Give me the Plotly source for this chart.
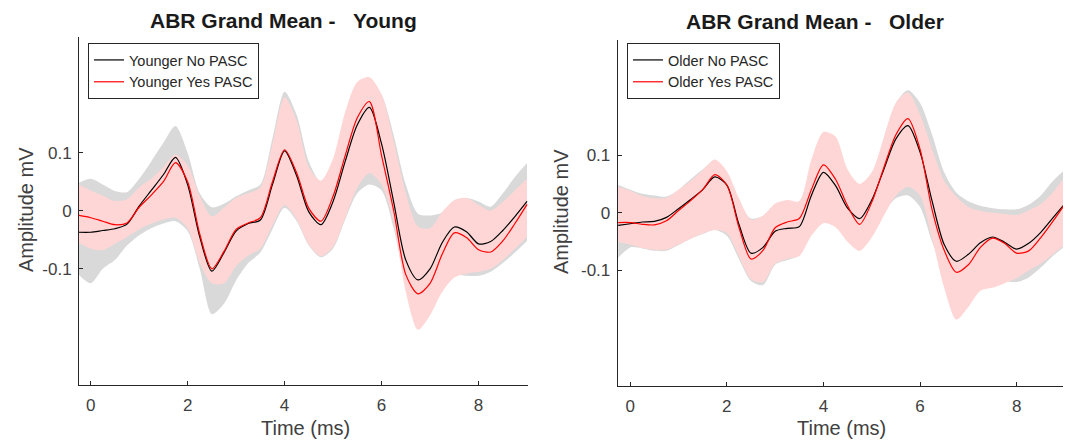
import plotly.graph_objects as go

# ---------------- data ----------------
TIME = [-0.25, 0.0, 0.25, 0.5, 0.75, 1.0, 1.25, 1.5, 1.75, 2.0, 2.25, 2.5, 2.75,
        3.0, 3.25, 3.5, 3.75, 4.0, 4.25, 4.5, 4.75, 5.0, 5.25, 5.5, 5.75, 6.0,
        6.25, 6.5, 6.75, 7.0, 7.25, 7.5, 7.75, 8.0, 8.25, 8.5, 8.75, 9.0]

young_no_pasc = [-0.037, -0.037, -0.034, -0.031, -0.023, 0.008, 0.035, 0.062, 0.092,
                 0.045, -0.045, -0.104, -0.072, -0.035, -0.022, -0.016, 0.045,
                 0.103, 0.060, -0.002, -0.024, 0.016, 0.085, 0.148, 0.178,
                 0.115, 0.015, -0.085, -0.119, -0.100, -0.055, -0.028, -0.036,
                 -0.057, -0.053, -0.034, -0.010, 0.016]
young_yes_pasc = [-0.008, -0.012, -0.018, -0.024, -0.021, 0.006, 0.027, 0.050, 0.083,
                  0.050, -0.040, -0.100, -0.070, -0.032, -0.021, -0.012, 0.050,
                  0.105, 0.065, 0.004, -0.018, 0.025, 0.095, 0.160, 0.188,
                  0.095, 0.000, -0.110, -0.143, -0.125, -0.075, -0.038, -0.046,
                  -0.067, -0.071, -0.052, -0.022, 0.011]
young_no_upper = [0.048, 0.055, 0.045, 0.034, 0.032, 0.055, 0.085, 0.117, 0.146,
                  0.100, 0.030, 0.006, 0.012, 0.025, 0.035, 0.045, 0.125,
                  0.205, 0.165, 0.085, 0.050, 0.085, 0.160, 0.215, 0.225,
                  0.200, 0.130, 0.045, -0.005, -0.008, -0.003, 0.018, 0.022,
                  0.016, 0.007, 0.030, 0.058, 0.082]
young_no_lower = [-0.110, -0.125, -0.100, -0.085, -0.060, -0.042, -0.030, -0.022, -0.018,
                  -0.035, -0.100, -0.178, -0.160, -0.120, -0.090, -0.072, -0.032,
                  0.005, -0.018, -0.060, -0.080, -0.065, -0.015, 0.030, 0.045,
                  0.035, -0.030, -0.120, -0.150, -0.130, -0.115, -0.110, -0.112,
                  -0.112, -0.105, -0.090, -0.072, -0.052]
young_yes_upper = [0.045, 0.035, 0.026, 0.017, 0.020, 0.040, 0.055, 0.075, 0.097,
                   0.078, 0.025, -0.010, 0.005, 0.022, 0.030, 0.040, 0.115,
                   0.195, 0.155, 0.075, 0.052, 0.090, 0.170, 0.222, 0.230,
                   0.200, 0.120, 0.030, -0.027, -0.030, -0.002, 0.018, 0.022,
                   0.010, 0.000, 0.015, 0.035, 0.055]
young_yes_lower = [-0.055, -0.065, -0.068, -0.057, -0.045, -0.032, -0.022, -0.015, -0.012,
                   -0.030, -0.090, -0.125, -0.125, -0.095, -0.077, -0.065, -0.025,
                   0.010, -0.015, -0.058, -0.078, -0.062, -0.012, 0.040, 0.065,
                   0.045, -0.020, -0.140, -0.205, -0.180, -0.140, -0.115, -0.108,
                   -0.105, -0.100, -0.085, -0.065, -0.045]

older_no_pasc = [-0.022, -0.019, -0.016, -0.015, -0.008, 0.007, 0.023, 0.040, 0.062,
                 0.048, -0.020, -0.070, -0.060, -0.032, -0.027, -0.024, 0.030,
                 0.070, 0.047, 0.008, -0.010, 0.022, 0.075, 0.128, 0.151,
                 0.105, 0.020, -0.055, -0.084, -0.072, -0.052, -0.042, -0.051,
                 -0.063, -0.053, -0.034, -0.009, 0.016]
older_yes_pasc = [-0.017, -0.017, -0.020, -0.021, -0.014, 0.004, 0.021, 0.040, 0.066,
                  0.048, -0.025, -0.080, -0.065, -0.026, -0.016, -0.010, 0.040,
                  0.083, 0.058, 0.012, -0.020, 0.018, 0.078, 0.135, 0.163,
                  0.110, 0.005, -0.065, -0.103, -0.090, -0.060, -0.044, -0.053,
                  -0.070, -0.066, -0.043, -0.015, 0.015]
older_no_upper = [0.048, 0.040, 0.033, 0.030, 0.028, 0.040, 0.058, 0.075, 0.090,
                  0.070, 0.020, -0.010, -0.005, 0.012, 0.018, 0.020, 0.082,
                  0.135, 0.122, 0.070, 0.045, 0.060, 0.130, 0.190, 0.212,
                  0.190, 0.135, 0.070, 0.035, 0.020, 0.012, 0.008, 0.006,
                  0.006, 0.014, 0.030, 0.055, 0.075]
older_no_lower = [-0.078, -0.060, -0.062, -0.066, -0.066, -0.056, -0.045, -0.037, -0.030,
                  -0.040, -0.080, -0.118, -0.125, -0.090, -0.082, -0.074, -0.035,
                  -0.010, -0.012, -0.028, -0.045, -0.030, 0.000, 0.025, 0.030,
                  0.010, -0.050, -0.100, -0.130, -0.125, -0.120, -0.118, -0.118,
                  -0.120, -0.112, -0.095, -0.075, -0.058]
older_yes_upper = [0.045, 0.038, 0.029, 0.025, 0.026, 0.040, 0.055, 0.073, 0.092,
                   0.072, 0.025, -0.012, -0.005, 0.016, 0.022, 0.020, 0.092,
                   0.140, 0.132, 0.075, 0.050, 0.070, 0.130, 0.190, 0.208,
                   0.170, 0.110, 0.055, 0.028, 0.010, 0.003, 0.000, -0.002,
                   -0.004, 0.004, 0.015, 0.035, 0.062]
older_yes_lower = [-0.050, -0.055, -0.061, -0.064, -0.064, -0.055, -0.045, -0.036, -0.030,
                   -0.035, -0.075, -0.115, -0.120, -0.088, -0.080, -0.075, -0.040,
                   -0.018, -0.025, -0.050, -0.066, -0.043, -0.005, 0.030, 0.045,
                   0.030, -0.045, -0.130, -0.185, -0.163, -0.135, -0.130, -0.122,
                   -0.113, -0.100, -0.088, -0.072, -0.055]

X_TICKS = [0, 2, 4, 6, 8]
Y_TICKS = [-0.1, 0, 0.1]
Y_TICK_TEXT = ["-0.1", "0", "0.1"]

# ---------------- styling ----------------
FONT = "Liberation Sans, Arial, Helvetica, sans-serif"
AX_COL = "#262626"
TXT_COL = "#404040"
GRAY_FILL = "rgb(217,217,217)"
PINK_FILL = "rgb(255,214,214)"

fig = go.Figure()


def add_panel(xa, ya, legend, names, no_mean, yes_mean, no_up, no_lo, yes_up, yes_lo):
    spline = dict(shape="spline", smoothing=0.8, width=0)
    fig.add_trace(go.Scatter(x=TIME, y=no_lo, mode="lines", line=dict(color=GRAY_FILL, **spline),
                             showlegend=False, hoverinfo="skip", xaxis=xa, yaxis=ya))
    fig.add_trace(go.Scatter(x=TIME, y=no_up, mode="lines", line=dict(color=GRAY_FILL, **spline),
                             fill="tonexty", fillcolor=GRAY_FILL,
                             showlegend=False, hoverinfo="skip", xaxis=xa, yaxis=ya))
    fig.add_trace(go.Scatter(x=TIME, y=yes_lo, mode="lines", line=dict(color=PINK_FILL, **spline),
                             showlegend=False, hoverinfo="skip", xaxis=xa, yaxis=ya))
    fig.add_trace(go.Scatter(x=TIME, y=yes_up, mode="lines", line=dict(color=PINK_FILL, **spline),
                             fill="tonexty", fillcolor=PINK_FILL,
                             showlegend=False, hoverinfo="skip", xaxis=xa, yaxis=ya))
    fig.add_trace(go.Scatter(x=TIME, y=no_mean, mode="lines", name=names[0],
                             line=dict(color="black", width=1.2, shape="spline", smoothing=0.8),
                             legend=legend, xaxis=xa, yaxis=ya))
    fig.add_trace(go.Scatter(x=TIME, y=yes_mean, mode="lines", name=names[1],
                             line=dict(color="red", width=1.2, shape="spline", smoothing=0.8),
                             legend=legend, xaxis=xa, yaxis=ya))


add_panel("x", "y", "legend", ["Younger No PASC", "Younger Yes PASC"],
          young_no_pasc, young_yes_pasc, young_no_upper, young_no_lower,
          young_yes_upper, young_yes_lower)
add_panel("x2", "y2", "legend2", ["Older No PASC", "Older Yes PASC"],
          older_no_pasc, older_yes_pasc, older_no_upper, older_no_lower,
          older_yes_upper, older_yes_lower)

W, H = 1070, 441


def px_x(p):
    return p / W


def px_y(p):
    return 1 - p / H


axis_common = dict(showline=True, linecolor=AX_COL, linewidth=1, mirror=False,
                   ticks="inside", ticklen=4, tickcolor=AX_COL, tickwidth=1,
                   showgrid=False, zeroline=False,
                   tickfont=dict(family=FONT, size=17, color=TXT_COL))

legend_common = dict(xanchor="left", yanchor="top", bgcolor="white",
                     bordercolor=AX_COL, borderwidth=1, traceorder="normal",
                     font=dict(family=FONT, size=14.5, color="#262626"),
                     tracegroupgap=0, itemwidth=30)

fig.update_layout(
    width=W, height=H, autosize=False,
    margin=dict(l=0, r=0, t=0, b=0),
    paper_bgcolor="white", plot_bgcolor="white",
    showlegend=True,
    xaxis=dict(domain=[px_x(79), px_x(528)], range=[-0.24, 9.02], anchor="y",
               tickvals=X_TICKS, ticklabelstandoff=5, **axis_common),
    yaxis=dict(domain=[px_y(385), px_y(36.5)], range=[-0.3, 0.3], anchor="x",
               tickvals=Y_TICKS, ticktext=Y_TICK_TEXT, ticklabelstandoff=3, **axis_common),
    xaxis2=dict(domain=[px_x(617.7), px_x(1063)], range=[-0.26, 8.96], anchor="y2",
                tickvals=X_TICKS, ticklabelstandoff=5, **axis_common),
    yaxis2=dict(domain=[px_y(386), px_y(39.5)], range=[-0.3, 0.3], anchor="x2",
                tickvals=Y_TICKS, ticktext=Y_TICK_TEXT, ticklabelstandoff=3, **axis_common),
    legend=dict(x=px_x(88), y=px_y(43), **legend_common),
    legend2=dict(x=px_x(627), y=px_y(43), **legend_common),
)

title_font = dict(family=FONT, size=21, color="#1a1a1a")
axis_title_font = dict(family=FONT, size=20, color=TXT_COL)
annotations = [
    dict(text="<b>ABR Grand Mean -&nbsp;&nbsp;&nbsp;Young</b>", x=px_x(283), y=px_y(20.5),
         font=title_font),
    dict(text="<b>ABR Grand Mean -&nbsp;&nbsp;&nbsp;Older</b>", x=px_x(815), y=px_y(21.5),
         font=title_font),
    dict(text="Time (ms)", x=px_x(305), y=px_y(428), font=axis_title_font),
    dict(text="Time (ms)", x=px_x(841), y=px_y(428), font=axis_title_font),
    dict(text="Amplitude mV", x=px_x(26), y=px_y(210), textangle=-90, font=axis_title_font),
    dict(text="Amplitude mV", x=px_x(561), y=px_y(212), textangle=-90, font=axis_title_font),
]
for a in annotations:
    a.update(xref="paper", yref="paper", showarrow=False, xanchor="center", yanchor="middle")
fig.update_layout(annotations=annotations)

fig.write_html("out.html", config={"displayModeBar": False},
               post_script="document.body.style.margin='0';")
